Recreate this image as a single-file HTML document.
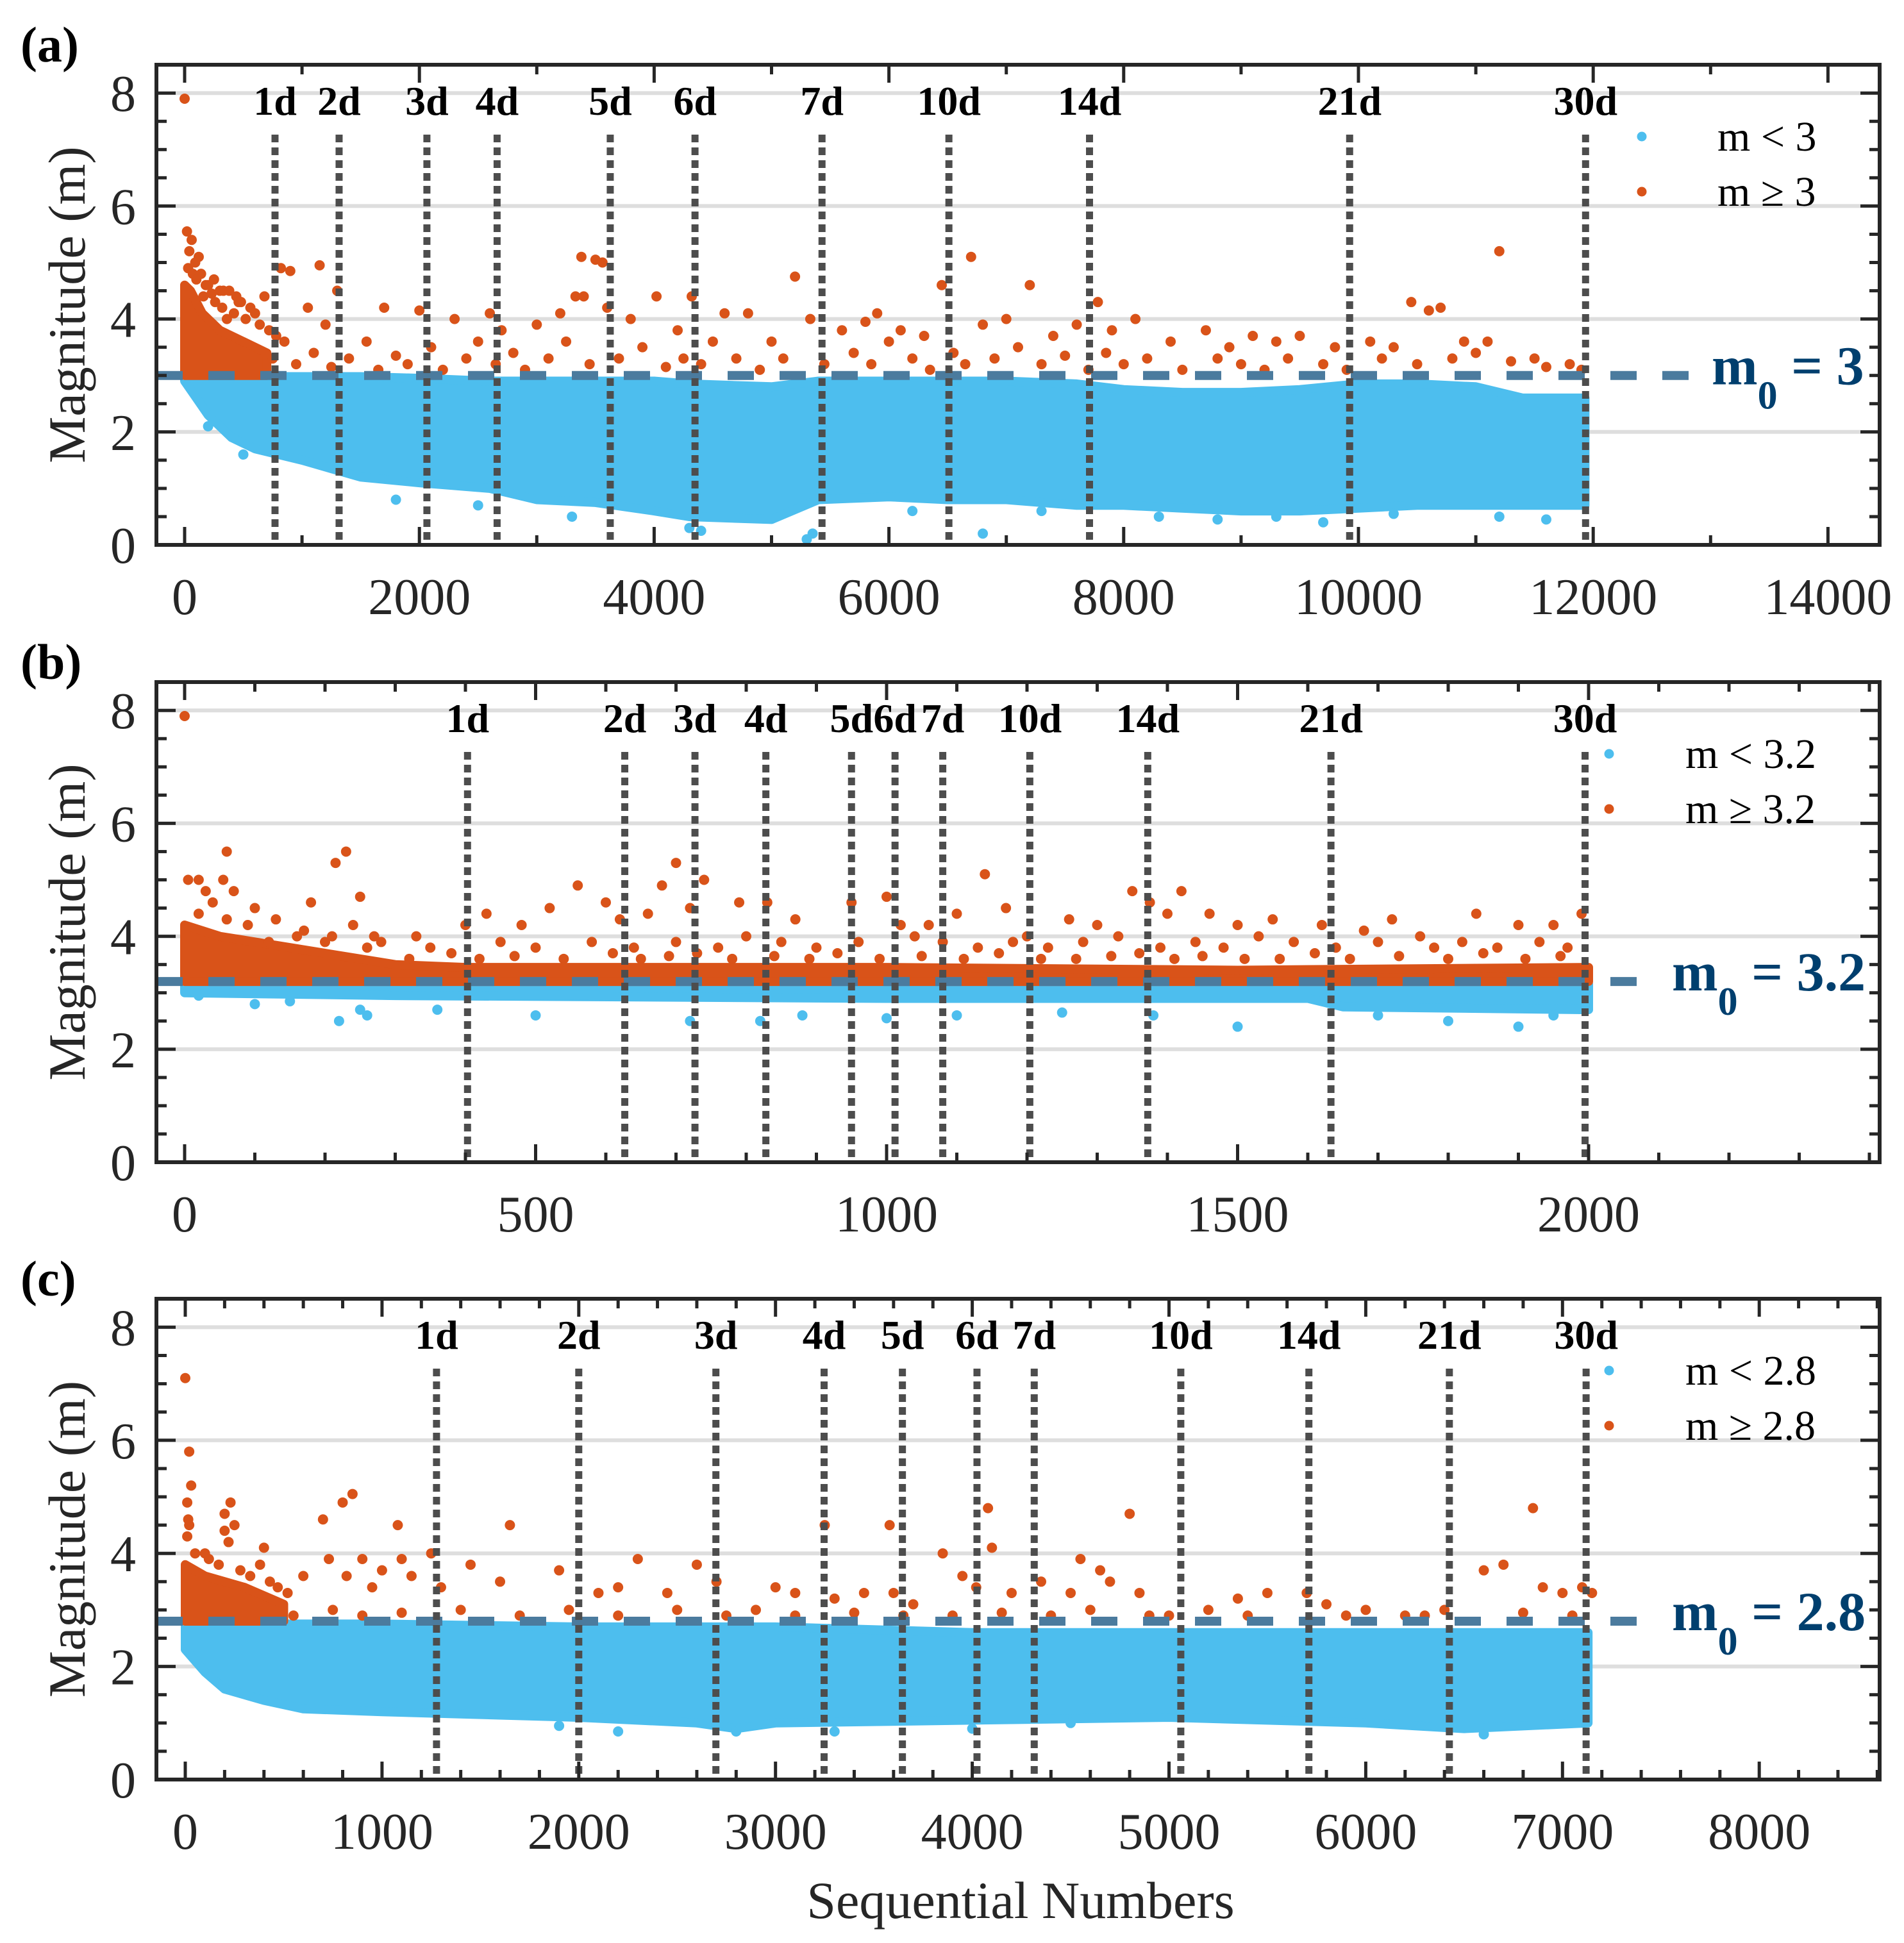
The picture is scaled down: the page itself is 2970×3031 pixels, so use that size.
<!DOCTYPE html>
<html><head><meta charset="utf-8"><style>
html,body{margin:0;padding:0;background:#fff}
svg{display:block;font-family:"Liberation Serif",serif}
</style></head><body>
<svg id="fig" width="2970" height="3031" viewBox="0 0 2970 3031" xmlns="http://www.w3.org/2000/svg"></svg>
<script>
// ---------- Panel (a) data ----------
const aDayLabels = ["1d","2d","3d","4d","5d","6d","7d","10d","14d","21d","30d"];
const aDaySeq = [770,1316,2064,2662,3626,4348,5430,6511,7709,9925,11935];
const aBlueSeq = [0,100,200,400,600,1000,1500,2000,2600,3000,3500,4000,4300,5000,5400,6000,6500,7000,7600,8000,8500,9000,9500,10000,10500,11000,11400,11930];
const aBlueLow = [2.9,2.6,2.3,1.9,1.7,1.5,1.2,1.1,1.0,0.8,0.75,0.6,0.5,0.45,0.8,0.85,0.8,0.8,0.7,0.7,0.65,0.6,0.6,0.65,0.7,0.7,0.7,0.7];
const aBlueHigh = [2.98,2.98,2.98,2.98,2.98,2.98,2.98,2.95,2.9,2.9,2.9,2.9,2.85,2.8,2.9,2.9,2.9,2.9,2.85,2.75,2.7,2.7,2.75,2.85,2.85,2.8,2.6,2.6];
const aBlueOutSeq = [1800,2500,3300,4300,4400,5300,5350,6800,200,500,8300,8800,9300,9700,10300,11200,11600,7300,6200];
const aBlueOutMag = [0.8,0.7,0.5,0.3,0.25,0.1,0.2,0.2,2.1,1.6,0.5,0.45,0.5,0.4,0.55,0.5,0.45,0.6,0.6];
const aOrangeSeq = [0,50,150,300,500,700];
const aOrangeHigh = [4.6,4.5,4.1,3.8,3.6,3.4];
const aOrangeLow = [3.0,3.0,3.0,3.0,3.0,3.0];
const aOrangePtSeq = [0,20,60,120,230,330,480,600,820,900,1150,1300,1050,1200,1700,2000,2300,2600,2700,3000,3200,3330,3380,3500,3560,3400,3600,3800,4020,4200,4320,4600,4800,5000,5200,5330,5600,5800,5900,6100,6300,6450,6700,6800,7000,7200,7400,7600,7780,7900,8100,8400,8700,8900,9100,9300,9500,9800,10100,10300,10450,10600,10700,10900,11100,11200,11500,11800,
750,850,950,1100,1250,1400,1550,1650,1800,1900,2100,2200,2400,2500,2650,2800,2900,3100,3250,3450,3700,3900,4100,4250,4400,4500,4700,4900,5100,5450,5700,5850,6000,6200,6350,6550,6650,6900,7100,7300,7500,7700,7850,8000,8200,8500,8800,9000,9200,9400,9700,9900,10200,10500,10800,11000,11300,11600,11900,
30,70,100,160,200,260,320,380,420,460,520,560,640,680,720,780,40,90,140,180,250,300,360,440];
const aOrangePtMag = [7.9,5.55,5.4,5.1,4.45,4.5,4.3,4.1,4.9,4.85,4.95,4.5,4.2,3.9,4.2,4.15,4.0,4.1,3.8,3.9,4.1,4.4,5.1,5.05,5.0,4.4,4.2,4.0,4.4,3.8,4.4,4.1,4.1,3.6,4.75,4.0,3.8,3.95,4.1,3.8,3.7,4.6,5.1,3.9,4.0,4.6,3.7,3.9,4.3,3.8,4.0,3.6,3.8,3.5,3.7,3.6,3.7,3.5,3.6,3.5,4.3,4.15,4.2,3.6,3.6,5.2,3.3,3.2,
3.3,3.6,3.2,3.4,3.15,3.3,3.6,3.1,3.35,3.2,3.5,3.1,3.3,3.6,3.2,3.4,3.1,3.3,3.6,3.2,3.3,3.5,3.15,3.3,3.2,3.6,3.3,3.1,3.3,3.2,3.4,3.2,3.6,3.3,3.1,3.4,3.2,3.3,3.5,3.2,3.35,3.1,3.4,3.2,3.3,3.1,3.3,3.2,3.1,3.3,3.2,3.1,3.3,3.2,3.3,3.4,3.25,3.15,3.1,
4.9,4.8,4.7,4.4,4.6,4.3,4.2,4.5,4.1,4.3,4.0,4.2,3.9,4.4,3.8,3.7,5.2,5.0,4.8,4.6,4.7,4.5,4.0,4.4];

// ---------- Panel (b) data ----------
const bDayLabels = ["1d","2d","3d","4d","5d","6d","7d","10d","14d","21d","30d"];
const bDaySeq = [403,627,727,828,950,1012,1080,1204,1372,1633,1995];
const bBlueSeq = [0,300,1000,1600,1650,2000];
const bBlueLow = [3.0,2.95,2.9,2.9,2.75,2.7];
const bBlueHigh = [3.15,3.15,3.15,3.15,3.15,3.15];
const bBlueOutSeq = [20,100,150,220,250,260,360,500,720,820,880,1000,1100,1250,1380,1500,1700,1800,1900,1950];
const bBlueOutMag = [2.95,2.8,2.85,2.5,2.7,2.6,2.7,2.6,2.5,2.5,2.6,2.55,2.6,2.65,2.6,2.4,2.6,2.5,2.4,2.6];
const bOrangeSeq = [0,50,150,300,400,1000,1500,2000];
const bOrangeHigh = [4.2,4.0,3.8,3.5,3.45,3.45,3.4,3.45];
const bOrangeLow = [3.2,3.2,3.2,3.2,3.2,3.2,3.2,3.2];
const bOrangePtSeq = [0,5,20,60,55,70,30,40,230,215,250,100,180,330,400,430,480,520,560,600,620,660,680,700,720,740,790,830,870,950,1000,1020,1060,1100,1140,1170,1200,1260,1300,1350,1375,1400,1420,1460,1500,1550,1620,1680,1720,1760,1840,1900,1950,1990,
120,160,200,260,280,350,450,500,580,640,700,760,800,850,900,960,1040,1080,1130,1180,1230,1280,1330,1390,1440,1480,1530,1580,1640,1700,1780,1820,1870,1930,1970,
320,380,420,470,540,610,650,690,730,780,840,890,930,990,1050,1110,1160,1220,1270,1320,1360,1410,1450,1510,1560,1610,1660,1730,1800,1850,1910,1960,
20,60,90,130,170,210,240,270];
const bOrangePtMag = [7.9,5.0,5.0,5.5,5.0,4.8,4.8,4.6,5.5,5.3,4.7,4.5,4.6,4.0,4.2,4.4,4.2,4.5,4.9,4.6,4.3,4.4,4.9,5.3,4.5,5.0,4.6,4.6,4.3,4.6,4.7,4.2,4.2,4.4,5.1,4.5,4.0,4.3,4.2,4.8,4.6,4.4,4.8,4.4,4.2,4.3,4.2,4.1,4.3,4.0,4.4,4.2,4.2,4.4,
3.9,4.0,3.9,3.8,3.9,3.8,3.9,3.8,3.9,3.8,3.9,3.8,4.0,3.9,3.8,3.9,4.0,3.9,3.8,3.9,3.8,3.9,4.0,3.8,3.9,3.8,4.0,3.9,3.8,3.9,3.8,3.9,3.8,3.9,3.8,
3.6,3.7,3.6,3.65,3.6,3.7,3.6,3.65,3.7,3.6,3.65,3.6,3.7,3.6,3.65,3.6,3.7,3.6,3.6,3.65,3.7,3.6,3.65,3.6,3.6,3.7,3.6,3.65,3.6,3.7,3.6,3.65,
4.4,4.3,4.2,4.3,4.1,4.0,4.2,4.0];

// ---------- Panel (c) data ----------
const cDayLabels = ["1d","2d","3d","4d","5d","6d","7d","10d","14d","21d","30d"];
const cDaySeq = [1277,2000,2697,3247,3645,4024,4315,5060,5711,6425,7120];
const cBlueSeq = [0,100,200,400,600,1000,2000,2600,2800,3000,4000,5000,6000,6500,7130];
const cBlueLow = [2.3,1.9,1.6,1.4,1.25,1.2,1.1,1.0,0.9,1.0,1.05,1.1,1.0,0.9,1.0];
const cBlueHigh = [2.75,2.75,2.75,2.75,2.75,2.75,2.7,2.7,2.7,2.7,2.6,2.6,2.6,2.6,2.6];
const cBlueOutSeq = [3300,4000,2800,6600,2200,1900,4500];
const cBlueOutMag = [0.85,0.9,0.85,0.8,0.85,0.95,1.0];
const cOrangeSeq = [0,100,300,500];
const cOrangeHigh = [3.8,3.6,3.4,3.1];
const cOrangeLow = [2.8,2.8,2.8,2.8];
const cOrangePtSeq = [0,20,30,10,15,20,10,200,230,200,220,250,100,400,600,700,730,800,850,820,900,950,1000,1080,1100,1150,1250,1300,1450,1600,1650,1900,2100,2200,2300,2450,2600,2700,2900,3000,3100,3250,3300,3450,3580,3600,3700,3850,3950,4020,4080,4100,4200,4350,4500,4550,4650,4700,4800,4850,5000,5200,5350,5500,5700,5800,6000,6200,6400,6600,6700,6850,6900,7000,7100,7150,
550,750,900,1100,1400,1700,1950,2200,2500,2750,3100,3400,3650,3900,4150,4400,4600,4900,5400,5900,6300,6800,7050,
50,120,170,280,330,380,430,470,520];
const cOrangePtMag = [7.1,5.8,5.2,4.9,4.6,4.5,4.3,4.7,4.9,4.4,4.2,4.5,4.0,4.1,3.6,4.6,3.9,4.9,5.05,3.6,3.9,3.4,3.7,4.5,3.9,3.6,4.0,3.4,3.8,3.5,4.5,3.7,3.3,3.4,3.9,3.3,3.8,3.5,3.0,3.4,3.3,4.5,3.2,3.3,4.5,3.3,3.1,4.0,3.6,3.4,4.8,4.1,3.3,3.5,3.3,3.9,3.7,3.5,4.7,3.3,2.9,3.0,3.2,3.3,3.3,3.1,3.0,2.9,3.0,3.7,3.8,4.8,3.4,3.3,3.4,3.3,
2.9,3.0,2.9,2.95,3.0,2.9,3.0,2.9,3.0,2.9,2.9,2.95,2.9,2.9,2.95,2.9,3.0,2.9,2.9,2.9,2.9,2.95,2.9,
4.0,3.9,3.8,3.7,3.6,3.8,3.5,3.4,3.3];

// ---------- axis ticks ----------
const aXTicks = [0,2000,4000,6000,8000,10000,12000,14000];
const bXTicks = [0,500,1000,1500,2000];
const cXTicks = [0,1000,2000,3000,4000,5000,6000,7000,8000];
const yTicks = [0,2,4,6,8];

const NS = "http://www.w3.org/2000/svg";
const svg = document.getElementById("fig");
const BLUE = "#4DBEEE", ORANGE = "#D95319";
function mk(tag, attrs, parent) {
  const e = document.createElementNS(NS, tag);
  for (const k in attrs) e.setAttribute(k, attrs[k]);
  (parent || svg).appendChild(e);
  return e;
}

function panel(cfg) {
  const g = mk("g", {});
  
  
  const L = 244, R = 2932, T = cfg.top, B = cfg.bottom;
  const X = s => cfg.x0 + s * cfg.kx;
  const Y = m => B - m * cfg.ky;
  const xMin = (L - cfg.x0) / cfg.kx, xMax = (R - cfg.x0) / cfg.kx;

  yTicks.forEach(v => {
    if (v === 0) return;
    const gl = mk("line", {x1: L, x2: R, y1: Y(v), y2: Y(v), stroke: "#dedede", "stroke-width": 6}, g);
    
    
  });

  function band(seq, lo, hi, color, nm) {
    let d = "";
    seq.forEach((s, i) => { d += (i ? "L" : "M") + X(s).toFixed(1) + " " + Y(hi[i]).toFixed(1); });
    for (let i = seq.length - 1; i >= 0; i--) d += "L" + X(seq[i]).toFixed(1) + " " + Y(lo[i]).toFixed(1);
    d += "Z";
    const p = mk("path", {d: d, fill: color, stroke: color, "stroke-width": 14, "stroke-linejoin": "round"}, g);
    
    
  }
  band(cfg.blueSeq, cfg.blueLow, cfg.blueHigh, BLUE, "blue-cloud");
  cfg.blueOutSeq.forEach((s, i) => {
    const c = mk("circle", {cx: X(s), cy: Y(cfg.blueOutMag[i]), r: 8, fill: BLUE}, g);
    
    
  });
  band(cfg.orSeq, cfg.orLow, cfg.orHigh, ORANGE, "orange-cloud");
  cfg.orPtSeq.forEach((s, i) => {
    const c = mk("circle", {cx: X(s), cy: Y(cfg.orPtMag[i]), r: 8, fill: ORANGE}, g);
    
    
  });

  const ml = mk("line", {x1: L, x2: cfg.m0End, y1: Y(cfg.m0), y2: Y(cfg.m0), stroke: "#4B7B9E", "stroke-width": 14, "stroke-dasharray": "41 40"}, g);
  
  

  cfg.daySeq.forEach((s, i) => {
    const x = X(s);
    const dl = mk("line", {x1: x, x2: x, y1: T + 109, y2: B, stroke: "#4d4d4d", "stroke-width": 11, "stroke-dasharray": "12 8"}, g);
    
    
    const t = mk("text", {x: x, y: T + 78, "text-anchor": "middle", "font-size": 64, "font-weight": "bold", fill: "#000"}, g);
    t.textContent = cfg.dayLabels[i];
    
    
  });

  const box = mk("rect", {x: L, y: T, width: R - L, height: B - T, fill: "none", stroke: "#262626", "stroke-width": 6}, g);
  
  

  for (let v = 0; v <= 8.01; v += 0.5) {
    const major = Math.abs(v - Math.round(v / 2) * 2) < 1e-6;
    const len = major ? 30 : 16;
    mk("line", {x1: L, x2: L + len, y1: Y(v), y2: Y(v), stroke: "#262626", "stroke-width": 5}, g);
    mk("line", {x1: R, x2: R - len, y1: Y(v), y2: Y(v), stroke: "#262626", "stroke-width": 5}, g);
  }
  yTicks.forEach(v => {
    const t = mk("text", {x: 212, y: Y(v) + 28, "text-anchor": "end", "font-size": 80, fill: "#262626"}, g);
    t.textContent = v;
    
    
  });
  const step = cfg.minorStep;
  for (let s = Math.ceil(xMin / step) * step; s <= xMax; s += step) {
    const major = cfg.xTicks.some(v => Math.abs(v - s) < 1e-6);
    const len = major ? 28 : 15;
    mk("line", {x1: X(s), x2: X(s), y1: B, y2: B - len, stroke: "#262626", "stroke-width": 5}, g);
    mk("line", {x1: X(s), x2: X(s), y1: T, y2: T + len, stroke: "#262626", "stroke-width": 5}, g);
  }
  cfg.xTicks.forEach(v => {
    const t = mk("text", {x: X(v), y: B + 108, "text-anchor": "middle", "font-size": 80, fill: "#262626"}, g);
    t.textContent = v;
    
    
  });

  const yt = mk("text", {x: 0, y: 0, transform: "translate(132," + ((T + B) / 2) + ") rotate(-90)", "text-anchor": "middle", "font-size": 82, fill: "#262626"}, g);
  yt.textContent = "Magnitude (m)";
  
  

  const pl = mk("text", {x: 32, y: T - 5, "font-size": 78, "font-weight": "bold", fill: "#000"}, g);
  pl.textContent = cfg.label;
  
  

  const lg = mk("g", {}, g);
  
  
  const l1 = mk("circle", {cx: cfg.legDotX, cy: T + 112, r: 7.5, fill: BLUE}, lg);
  
  
  const l2 = mk("circle", {cx: cfg.legDotX, cy: T + 198, r: 7.5, fill: ORANGE}, lg);
  
  
  const t1 = mk("text", {x: cfg.legTextX, y: T + 134, "font-size": 66, fill: "#000"}, lg);
  t1.textContent = "m < " + cfg.m0;
  
  
  const t2 = mk("text", {x: cfg.legTextX, y: T + 220, "font-size": 66, fill: "#000"}, lg);
  t2.textContent = "m \u2265 " + cfg.m0;
  
  

  const ma = mk("text", {x: cfg.m0TextX, y: Y(cfg.m0) + 14, "font-size": 86, "font-weight": "bold", fill: "#003F6E"}, g);
  
  
  const s1 = mk("tspan", {}, ma); s1.textContent = "m";
  const s2 = mk("tspan", {dy: 38, "font-size": 62}, ma); s2.textContent = "0";
  const s3 = mk("tspan", {dy: -38}, ma); s3.textContent = " = " + cfg.m0;
}

panel({name: "panel-a", label: "(a)", top: 101, bottom: 850, x0: 288, kx: 0.1831, ky: 88.1,
  blueSeq: aBlueSeq, blueLow: aBlueLow, blueHigh: aBlueHigh, blueOutSeq: aBlueOutSeq, blueOutMag: aBlueOutMag,
  orSeq: aOrangeSeq, orLow: aOrangeLow, orHigh: aOrangeHigh, orPtSeq: aOrangePtSeq, orPtMag: aOrangePtMag,
  daySeq: aDaySeq, dayLabels: aDayLabels, xTicks: aXTicks, minorStep: 1000, m0: 3, m0End: 2650, m0TextX: 2670,
  legDotX: 2561, legTextX: 2679});
panel({name: "panel-b", label: "(b)", top: 1064, bottom: 1813, x0: 288, kx: 1.095, ky: 88.1,
  blueSeq: bBlueSeq, blueLow: bBlueLow, blueHigh: bBlueHigh, blueOutSeq: bBlueOutSeq, blueOutMag: bBlueOutMag,
  orSeq: bOrangeSeq, orLow: bOrangeLow, orHigh: bOrangeHigh, orPtSeq: bOrangePtSeq, orPtMag: bOrangePtMag,
  daySeq: bDaySeq, dayLabels: bDayLabels, xTicks: bXTicks, minorStep: 100, m0: 3.2, m0End: 2585, m0TextX: 2608,
  legDotX: 2510, legTextX: 2629});
panel({name: "panel-c", label: "(c)", top: 2026, bottom: 2776, x0: 289, kx: 0.3069, ky: 88.2,
  blueSeq: cBlueSeq, blueLow: cBlueLow, blueHigh: cBlueHigh, blueOutSeq: cBlueOutSeq, blueOutMag: cBlueOutMag,
  orSeq: cOrangeSeq, orLow: cOrangeLow, orHigh: cOrangeHigh, orPtSeq: cOrangePtSeq, orPtMag: cOrangePtMag,
  daySeq: cDaySeq, dayLabels: cDayLabels, xTicks: cXTicks, minorStep: 200, m0: 2.8, m0End: 2585, m0TextX: 2608,
  legDotX: 2510, legTextX: 2629});

const xt = mk("text", {x: 1592, y: 2992, "text-anchor": "middle", "font-size": 82, fill: "#262626"});
xt.textContent = "Sequential Numbers";


</script>
</body></html>
